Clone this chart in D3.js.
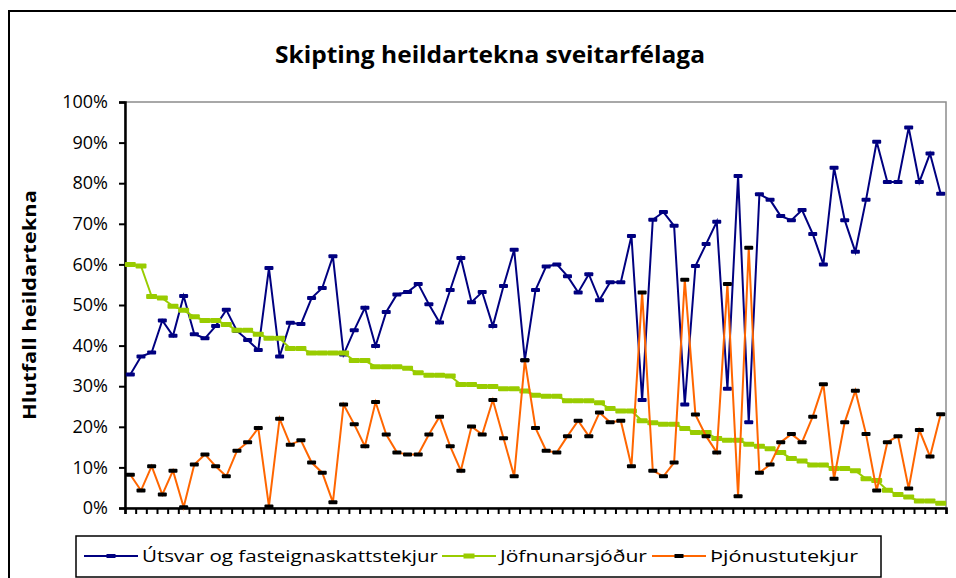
<!DOCTYPE html>
<meta charset="utf-8">
<style>
body { margin: 0; background: #fff; }
text { font-family: "Open Sans", sans-serif; fill: #000; }
</style>
<svg width="956" height="578"></svg>
<script src="https://cdn.jsdelivr.net/npm/d3@7"></script>
<script>

var seriesNames = ["Útsvar og fasteignaskattstekjur", "Jöfnunarsjóður", "Þjónustutekjur"];

// Útsvar og fasteignaskattstekjur (%)
var utsvar = [32.9, 37.3, 38.3, 46.2, 42.4, 52.2, 42.8, 41.8, 44.8, 48.8,
  43.6, 41.4, 38.9, 59.1, 37.3, 45.6, 45.3, 51.7, 54.2, 62.0,
  37.8, 43.8, 49.3, 39.9, 48.3, 52.6, 53.2, 55.2, 50.2, 45.7,
  53.7, 61.6, 50.7, 53.2, 44.8, 54.7, 63.6, 36.4, 53.7, 59.5,
  60.0, 57.1, 53.1, 57.6, 51.2, 55.6, 55.6, 67.0, 26.6, 71.0,
  72.9, 69.5, 25.5, 59.6, 65.0, 70.5, 29.4, 81.8, 21.1, 77.3,
  75.9, 71.9, 70.9, 73.4, 67.5, 60.0, 83.8, 70.9, 63.1, 75.9,
  90.2, 80.3, 80.3, 93.7, 80.3, 87.3, 77.4];

// Jöfnunarsjóður (%)
var jofnun = [60.0, 59.6, 52.1, 51.7, 49.7, 48.7, 47.1, 46.2, 46.2, 45.2,
  43.8, 43.8, 42.8, 41.8, 41.8, 39.3, 39.3, 38.2, 38.2, 38.2,
  38.2, 36.3, 36.3, 34.8, 34.8, 34.8, 34.4, 33.3, 32.7, 32.7,
  32.5, 30.4, 30.4, 29.9, 29.9, 29.4, 29.4, 28.8, 27.8, 27.5,
  27.5, 26.4, 26.4, 26.4, 25.9, 24.5, 23.9, 23.9, 21.5, 21.0,
  20.6, 20.6, 19.6, 18.6, 18.6, 17.1, 16.7, 16.7, 15.7, 15.2,
  14.6, 13.7, 12.2, 11.6, 10.6, 10.6, 9.7, 9.7, 9.2, 7.2,
  6.8, 4.4, 3.3, 2.7, 1.7, 1.7, 1.2];

// Þjónustutekjur (%)
var thjonusta = [8.2, 4.3, 10.3, 3.3, 9.2, 0.2, 10.7, 13.2, 10.3, 7.8,
  14.1, 16.2, 19.7, 0.4, 22.0, 15.6, 16.7, 11.2, 8.7, 1.4,
  25.5, 20.6, 15.2, 26.1, 18.1, 13.7, 13.2, 13.2, 18.1, 22.5,
  15.2, 9.2, 20.1, 18.1, 26.6, 17.2, 7.8, 36.4, 19.7, 14.1,
  13.7, 17.7, 21.5, 17.7, 23.5, 21.1, 21.5, 10.3, 53.1, 9.2,
  7.8, 11.2, 56.2, 23.0, 17.7, 13.7, 55.2, 2.9, 64.1, 8.7,
  10.7, 16.2, 18.2, 16.2, 22.5, 30.5, 7.2, 21.1, 28.9, 18.2,
  4.3, 16.2, 17.7, 4.8, 19.2, 12.7, 23.1];

var yTicks = [0, 10, 20, 30, 40, 50, 60, 70, 80, 90, 100];

var svg = d3.select("svg");

var plotLeft = 125, plotRight = 946, plotTop = 102, plotBottom = 508;
var n = utsvar.length;

var x = d3.scaleLinear().domain([0, n]).range([plotLeft, plotRight]);
var y = d3.scaleLinear().domain([0, 100]).range([plotBottom, plotTop]);

// outer chart frame
svg.append("rect")
    .attr("x", 9).attr("y", 11)
    .attr("width", 980).attr("height", 620)
    .attr("fill", "none").attr("stroke", "#000").attr("stroke-width", 2);

// plot area border
svg.append("rect")
    .attr("x", plotLeft).attr("y", plotTop)
    .attr("width", plotRight - plotLeft).attr("height", plotBottom - plotTop)
    .attr("fill", "none").attr("stroke", "#8c8c8c").attr("stroke-width", 1.5);

svg.append("text")
    .attr("x", 490).attr("y", 63)
    .attr("text-anchor", "middle")
    .attr("font-size", 24).attr("font-weight", "bold")
    .attr("textLength", 430).attr("lengthAdjust", "spacingAndGlyphs")
    .text("Skipting heildartekna sveitarfélaga");

svg.append("text")
    .attr("transform", "translate(36,305) rotate(-90)")
    .attr("text-anchor", "middle")
    .attr("font-size", 17).attr("font-weight", "bold")
    .attr("textLength", 230).attr("lengthAdjust", "spacingAndGlyphs")
    .text("Hlutfall heildartekna");

var yAxis = svg.append("g")
    .attr("transform", "translate(" + plotLeft + ",0)")
    .call(d3.axisLeft(y).tickValues(yTicks).tickSize(6).tickPadding(11)
      .tickFormat(function(d) { return d + "%"; }));
yAxis.selectAll("text").attr("font-size", 18).attr("font-family", "Open Sans, sans-serif").attr("fill", "#000");
yAxis.selectAll("line").attr("stroke", "#000").attr("stroke-width", 2);
yAxis.select(".domain").attr("stroke", "#000").attr("stroke-width", 2.5);

var xAxis = svg.append("g")
    .attr("transform", "translate(0," + plotBottom + ")")
    .call(d3.axisBottom(x).tickValues(d3.range(n + 1)).tickSize(6).tickFormat(""));
xAxis.selectAll("line").attr("stroke", "#000").attr("stroke-width", 2);
xAxis.select(".domain").attr("stroke", "#000").attr("stroke-width", 2.5);

var series = [
  {name: seriesNames[0], values: utsvar, line: "#000080", marker: "#000080", mw: 9, mh: 4},
  {name: seriesNames[1], values: jofnun, line: "#99cc00", marker: "#99cc00", mw: 11, mh: 5},
  {name: seriesNames[2], values: thjonusta, line: "#ff6600", marker: "#000000", mw: 9, mh: 4}
];

var line = d3.line()
    .x(function(d, i) { return x(i + 0.5); })
    .y(function(d) { return y(d); });

series.forEach(function(s) {
  var g = svg.append("g");
  g.append("path")
      .attr("d", line(s.values))
      .attr("fill", "none")
      .attr("stroke", s.line)
      .attr("stroke-width", 2);
  g.selectAll("rect")
    .data(s.values)
    .enter().append("rect")
      .attr("x", function(d, i) { return x(i + 0.5) - s.mw / 2; })
      .attr("y", function(d) { return y(d) - s.mh / 2; })
      .attr("width", s.mw).attr("height", s.mh)
      .attr("rx", 1)
      .attr("fill", s.marker);
});

// legend
var legend = svg.append("g");
legend.append("rect")
    .attr("x", 76).attr("y", 536)
    .attr("width", 805).attr("height", 41)
    .attr("fill", "#fff").attr("stroke", "#000").attr("stroke-width", 1.5);

var legendX = [84, 442, 652];
var legendW = [296, 147, 148];
series.forEach(function(s, i) {
  var lx = legendX[i];
  legend.append("line")
      .attr("x1", lx).attr("x2", lx + 54)
      .attr("y1", 556).attr("y2", 556)
      .attr("stroke", s.line).attr("stroke-width", 2);
  legend.append("rect")
      .attr("x", lx + 27 - s.mw / 2).attr("y", 556 - s.mh / 2)
      .attr("width", s.mw).attr("height", s.mh)
      .attr("fill", s.marker);
  legend.append("text")
      .attr("x", lx + 58).attr("y", 562)
      .attr("font-size", 17)
      .attr("textLength", legendW[i]).attr("lengthAdjust", "spacingAndGlyphs")
      .text(s.name);
});

</script>
